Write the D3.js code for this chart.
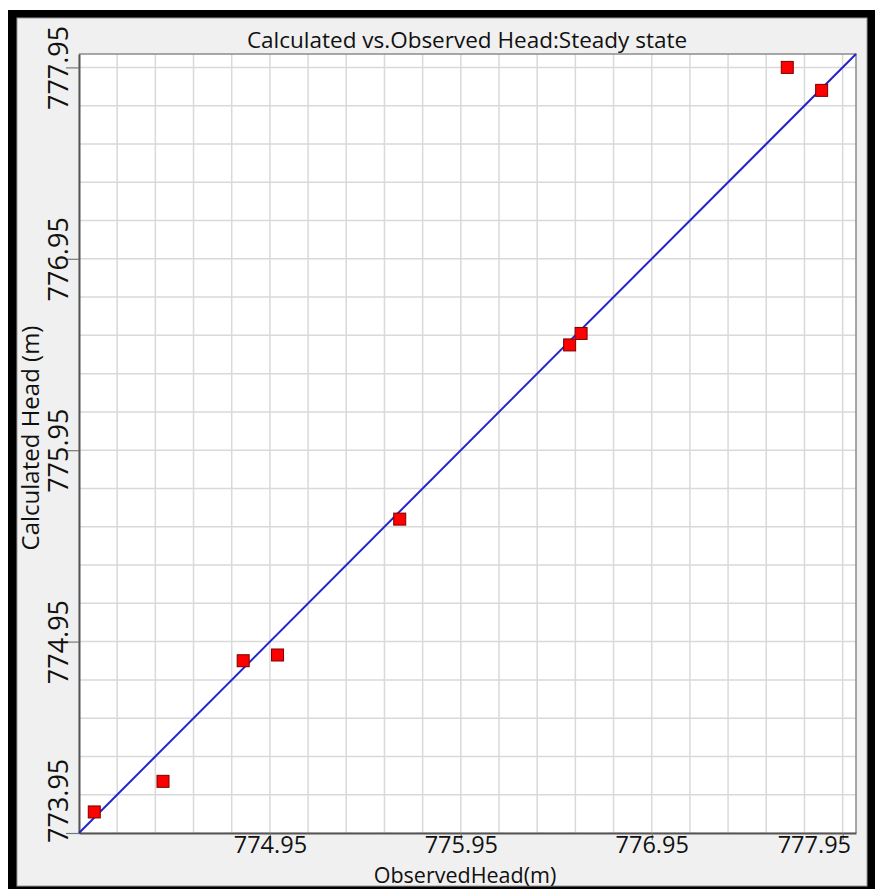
<!DOCTYPE html>
<html>
<head>
<meta charset="utf-8">
<script src="https://cdn.jsdelivr.net/npm/d3@7"></script>
<style>
  html, body { margin: 0; padding: 0; background: #fff; }
  svg { display: block; font-family: "Open Sans", sans-serif; }
</style>
</head>
<body>
<svg id="chart" width="875" height="889"></svg>
<script>
const observed   = [774.03, 774.39, 774.81, 774.99, 775.63, 776.52, 776.58, 777.66, 777.84];
const calculated = [774.06, 774.22, 774.85, 774.88, 775.59, 776.50, 776.56, 777.95, 777.83];
const xTickValues = [774.95, 775.95, 776.95, 777.95];
const yTickValues = [773.95, 774.95, 775.95, 776.95, 777.95];
const gridValues = d3.range(0, 21).map(i => +(773.95 + i * 0.2).toFixed(2));
const axisDomain = [773.95, 778.02];

const svg = d3.select("#chart");
const plot = { left: 79, top: 54, right: 856, bottom: 833 };

// frame + panel
svg.append("rect").attr("x", 8).attr("y", 10).attr("width", 880).attr("height", 890).attr("fill", "#000");
svg.append("rect").attr("x", 17).attr("y", 18).attr("width", 850).attr("height", 868)
  .attr("fill", "#f0f0f0").attr("stroke", "#9a9a9a").attr("stroke-width", 1);

const x = d3.scaleLinear().domain(axisDomain).range([plot.left, plot.right]);
const y = d3.scaleLinear().domain(axisDomain).range([plot.bottom, plot.top]);

svg.append("rect")
  .attr("x", plot.left).attr("y", plot.top)
  .attr("width", plot.right - plot.left).attr("height", plot.bottom - plot.top)
  .attr("fill", "#fff");

// grid
svg.append("g").selectAll("line").data(gridValues).join("line")
  .attr("x1", d => x(d)).attr("x2", d => x(d))
  .attr("y1", plot.top).attr("y2", plot.bottom)
  .attr("stroke", "#d9d9d9").attr("stroke-width", 1.5);
svg.append("g").selectAll("line").data(gridValues).join("line")
  .attr("y1", d => y(d)).attr("y2", d => y(d))
  .attr("x1", plot.left).attr("x2", plot.right)
  .attr("stroke", "#d9d9d9").attr("stroke-width", 1.5);

// top / right border
svg.append("path")
  .attr("d", `M${plot.left},${plot.top}H${plot.right}V${plot.bottom}`)
  .attr("fill", "none").attr("stroke", "#8c8c8c").attr("stroke-width", 1.5);

// axes
const xAxis = d3.axisBottom(x).tickValues(xTickValues).tickSize(7).tickSizeOuter(0).tickFormat(d3.format(".2f"));
const yAxis = d3.axisLeft(y).tickValues(yTickValues).tickSize(13).tickSizeOuter(0).tickFormat(d3.format(".2f"));

const gx = svg.append("g").attr("transform", `translate(0,${plot.bottom})`).call(xAxis);
const gy = svg.append("g").attr("transform", `translate(${plot.left},0)`).call(yAxis);

[gx, gy].forEach(g => {
  g.select(".domain").attr("stroke", "#555").attr("stroke-width", 2);
  g.selectAll(".tick line").attr("stroke", "#777").attr("stroke-width", 1.2);
  g.selectAll(".tick text").attr("fill", "#111").style("font-family", "'Open Sans', sans-serif");
});

gx.selectAll(".tick text").attr("font-size", 23.5).attr("y", 3.5).attr("dy", "0.71em")
  .each(function () {
    const t = d3.select(this);
    const tick = d3.select(this.parentNode);
    const tx = +tick.attr("transform").match(/translate\(([-\d.]+)/)[1];
    const w = this.getComputedTextLength();
    if (tx + w / 2 > 851) t.attr("x", 851 - w / 2 - tx);
  });

gy.selectAll(".tick text").attr("font-size", 27)
  .each(function () {
    const tick = d3.select(this.parentNode);
    const ty = +tick.attr("transform").match(/,([-\d.]+)\)/)[1];
    const w = this.getComputedTextLength();
    let c = 0;
    if (ty + w / 2 > 843) c = 843 - w / 2 - ty;
    d3.select(this)
      .attr("text-anchor", "middle")
      .attr("x", null).attr("dy", null)
      .attr("transform", `translate(-11,${c}) rotate(-90)`);
  });

// 1:1 line
svg.append("line")
  .attr("x1", x(axisDomain[0])).attr("y1", y(axisDomain[0]))
  .attr("x2", x(axisDomain[1])).attr("y2", y(axisDomain[1]))
  .attr("stroke", "#2424c8").attr("stroke-width", 2);

// points
const pts = observed.map((o, i) => ({ o, c: calculated[i] }));
svg.append("g").selectAll("rect").data(pts).join("rect")
  .attr("x", d => x(d.o) - 6).attr("y", d => y(d.c) - 6)
  .attr("width", 12).attr("height", 12)
  .attr("fill", "#ff0000").attr("stroke", "#7a0000").attr("stroke-width", 1);

// titles
svg.append("text").attr("x", 467).attr("y", 48).attr("text-anchor", "middle")
  .attr("font-size", 22.5).attr("fill", "#111")
  .text("Calculated vs.Observed Head:Steady state");

svg.append("text").attr("x", 465).attr("y", 882.5).attr("text-anchor", "middle")
  .attr("font-size", 21.5).attr("fill", "#111")
  .text("ObservedHead(m)");

svg.append("text").attr("transform", "translate(39,438) rotate(-90)").attr("text-anchor", "middle")
  .attr("font-size", 24).attr("fill", "#111")
  .text("Calculated Head (m)");
</script>
</body>
</html>
